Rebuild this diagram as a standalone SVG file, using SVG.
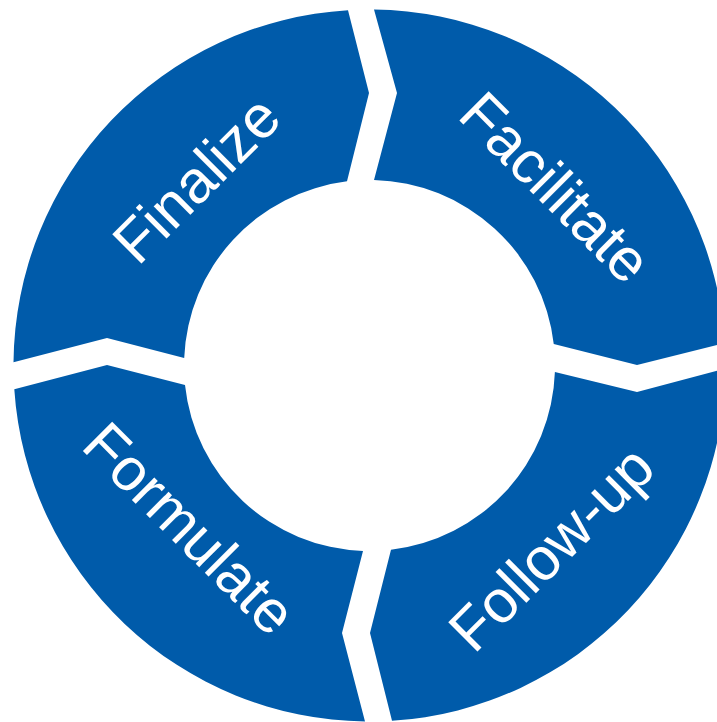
<svg xmlns="http://www.w3.org/2000/svg" width="717" height="722" viewBox="0 0 717 722">
  <style>
    .seg { fill: #005BAA; stroke: none; }
    .lbl { fill: #FFFFFF; font-family: "Liberation Sans", Arial, sans-serif; font-size: 60px; text-anchor: middle; }
  </style>
  <rect x="0" y="0" width="717" height="722" fill="#FFFFFF"/>
  <g id="finalize">
    <path class="seg" d="M 13.5,362.3 A 356 356 0 0 1 348,10.15 L 369,93 L 347,181.37 A 185.5 185.5 0 0 0 184.2,358 L 107,338 Z"/>
    <text class="lbl" transform="translate(211,194) rotate(-45)" x="0" y="0">Finalize</text>
  </g>
  <g id="facilitate">
    <path class="seg" d="M 374,9.53 A 356 356 0 0 1 724.8,343 L 637,365 L 553.75,344 A 185.5 185.5 0 0 0 374,180.05 L 397,93 Z"/>
    <text class="lbl" transform="translate(541,202) rotate(45)" x="0" y="0">Facilitate</text>
  </g>
  <g id="follow-up">
    <path class="seg" d="M 725.5,368.5 A 356 356 0 0 1 392,720.8 L 370,633 L 391,549.75 A 185.5 185.5 0 0 0 554.9,372 L 637,392 Z"/>
    <text class="lbl" transform="translate(566,563) rotate(-45)" x="0" y="0">Follow-up</text>
  </g>
  <g id="formulate">
    <path class="seg" d="M 365,721.47 A 356 356 0 0 1 14.3,389.3 L 107,365 L 185,385 A 185.5 185.5 0 0 0 363,550.9 L 342,633 Z"/>
    <text class="lbl" transform="translate(175,543) rotate(45)" x="0" y="0">Formulate</text>
  </g>
  <g id="connectors"></g>
</svg>
